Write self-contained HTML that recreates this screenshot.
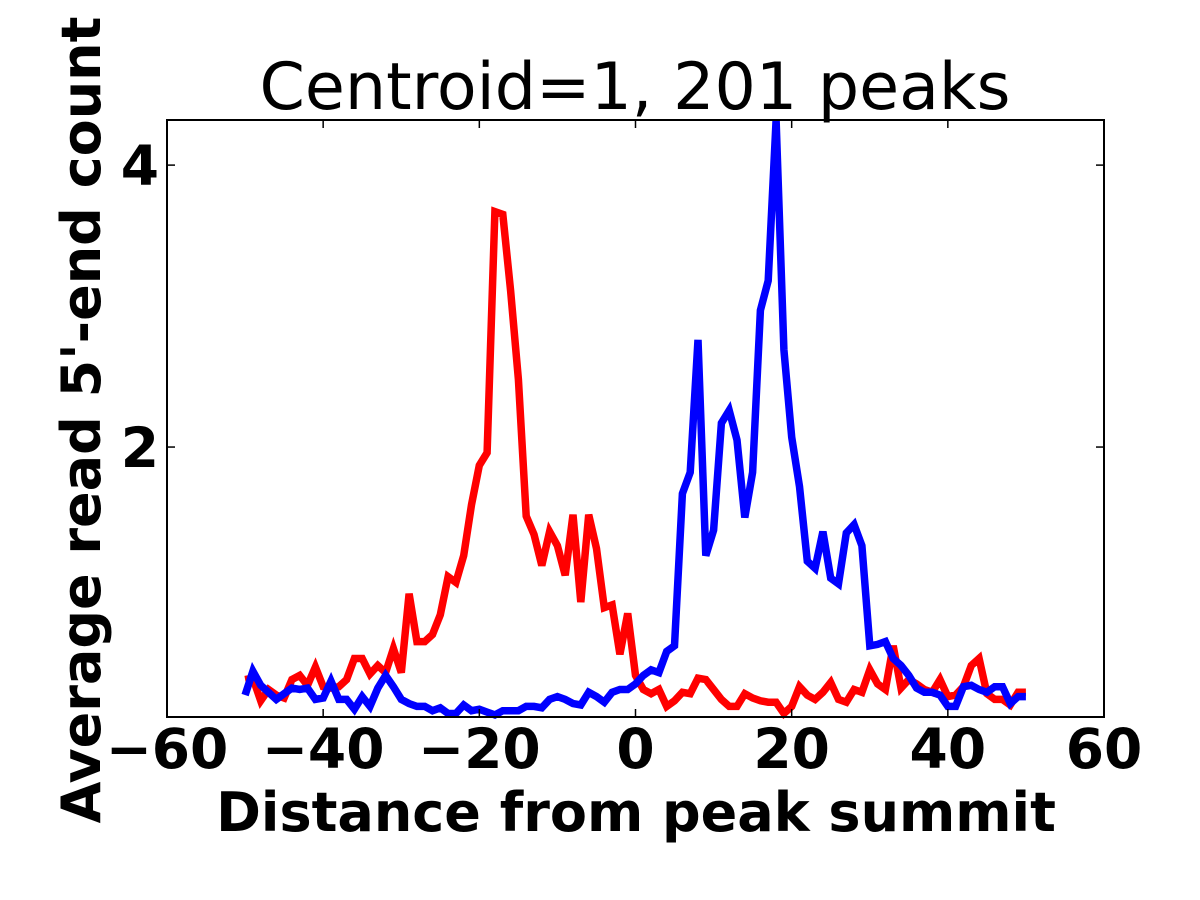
<!DOCTYPE html>
<html><head><meta charset="utf-8"><style>
html,body{margin:0;padding:0;background:#fff}
svg{display:block}
text{font-family:"DejaVu Sans","Liberation Sans",sans-serif}
</style></head><body>
<svg id="chart" width="1200" height="900" xmlns="http://www.w3.org/2000/svg">
<rect width="1200" height="900" fill="#fff"/>
<text x="635" y="109" font-size="65" text-anchor="middle">Centroid=1, 201 peaks</text>
<g id="plot"></g>
<text x="636" y="831" font-size="54" font-weight="bold" text-anchor="middle">Distance from peak summit</text>
<text transform="translate(100,420) rotate(-90)" font-size="54" font-weight="bold" text-anchor="middle">Average read 5'-end count</text>
</svg>
<script>
const xTicks=[-60,-40,-20,0,20,40,60];
const xTickLabels=["\u221260","\u221240","\u221220","0","20","40","60"];
const yTicks=[2,4];
const yTickLabels=["2","4"];
const xStart=-50;
const redSeries=[0.35,0.36,0.2,0.28,0.24,0.22,0.35,0.38,0.31,0.44,0.30,0.29,0.30,0.35,0.50,0.50,0.39,0.45,0.40,0.57,0.40,0.96,0.62,0.62,0.67,0.81,1.08,1.04,1.23,1.59,1.87,1.96,3.67,3.65,3.11,2.48,1.51,1.38,1.16,1.40,1.30,1.09,1.52,0.90,1.52,1.28,0.86,0.88,0.53,0.82,0.38,0.28,0.25,0.28,0.16,0.20,0.26,0.25,0.36,0.35,0.28,0.21,0.16,0.16,0.25,0.22,0.20,0.19,0.19,0.11,0.16,0.30,0.24,0.21,0.26,0.33,0.21,0.19,0.28,0.26,0.42,0.32,0.28,0.59,0.29,0.35,0.32,0.28,0.26,0.35,0.23,0.24,0.30,0.45,0.50,0.25,0.21,0.21,0.17,0.26,0.26];
const blueSeries=[0.24,0.41,0.31,0.26,0.21,0.25,0.29,0.28,0.29,0.21,0.22,0.34,0.21,0.21,0.14,0.23,0.16,0.29,0.38,0.30,0.21,0.18,0.16,0.16,0.13,0.15,0.11,0.11,0.17,0.13,0.14,0.12,0.10,0.13,0.13,0.13,0.16,0.16,0.15,0.21,0.23,0.21,0.18,0.17,0.26,0.23,0.19,0.26,0.28,0.28,0.32,0.38,0.42,0.40,0.55,0.59,1.67,1.82,2.76,1.23,1.41,2.17,2.26,2.05,1.50,1.82,2.97,3.18,4.32,2.69,2.07,1.72,1.19,1.14,1.40,1.07,1.03,1.39,1.45,1.30,0.59,0.60,0.62,0.50,0.45,0.38,0.29,0.26,0.26,0.24,0.16,0.16,0.30,0.31,0.28,0.26,0.30,0.30,0.18,0.23,0.23];
const L=167,R=1104,T=120,B=717,xMin=-60,xMax=60,yMin=0.085,yMax=4.32;
const sx=v=>L+(v-xMin)/(xMax-xMin)*(R-L);
const sy=v=>B-(v-yMin)/(yMax-yMin)*(B-T);
const NS="http://www.w3.org/2000/svg";
const g=document.getElementById('plot');
function mk(t,a){const e=document.createElementNS(NS,t);for(const k in a)e.setAttribute(k,a[k]);g.appendChild(e);return e;}
function series(data,color,name){
  const pts=data.map((v,i)=>sx(xStart+i).toFixed(1)+","+sy(v).toFixed(1)).join(" ");
  const p=mk('polyline',{points:pts,fill:"none",stroke:color,"stroke-width":7.5,"stroke-linejoin":"miter"});
  
  
}
series(redSeries,"#ff0000","red-series-line");
series(blueSeries,"#0000ff","blue-series-line");
const f=mk('rect',{x:L,y:T,width:R-L,height:B-T,fill:"none",stroke:"#000","stroke-width":2});


xTicks.forEach((t,i)=>{
  const x=sx(t);
  mk('line',{x1:x,y1:B,x2:x,y2:B-8,stroke:"#000","stroke-width":1.5});
  mk('line',{x1:x,y1:T,x2:x,y2:T+8,stroke:"#000","stroke-width":1.5});
  const tx=mk('text',{x:x,y:B+51,"font-size":55,"font-weight":"bold","text-anchor":"middle"});
  tx.textContent=xTickLabels[i];
  
  
});
yTicks.forEach((t,i)=>{
  const y=sy(t);
  mk('line',{x1:L,y1:y,x2:L+8,y2:y,stroke:"#000","stroke-width":1.5});
  mk('line',{x1:R,y1:y,x2:R-8,y2:y,stroke:"#000","stroke-width":1.5});
  const tx=mk('text',{x:L-8,y:y+20,"font-size":55,"font-weight":"bold","text-anchor":"end"});
  tx.textContent=yTickLabels[i];
  
  
});
</script>
</body></html>
